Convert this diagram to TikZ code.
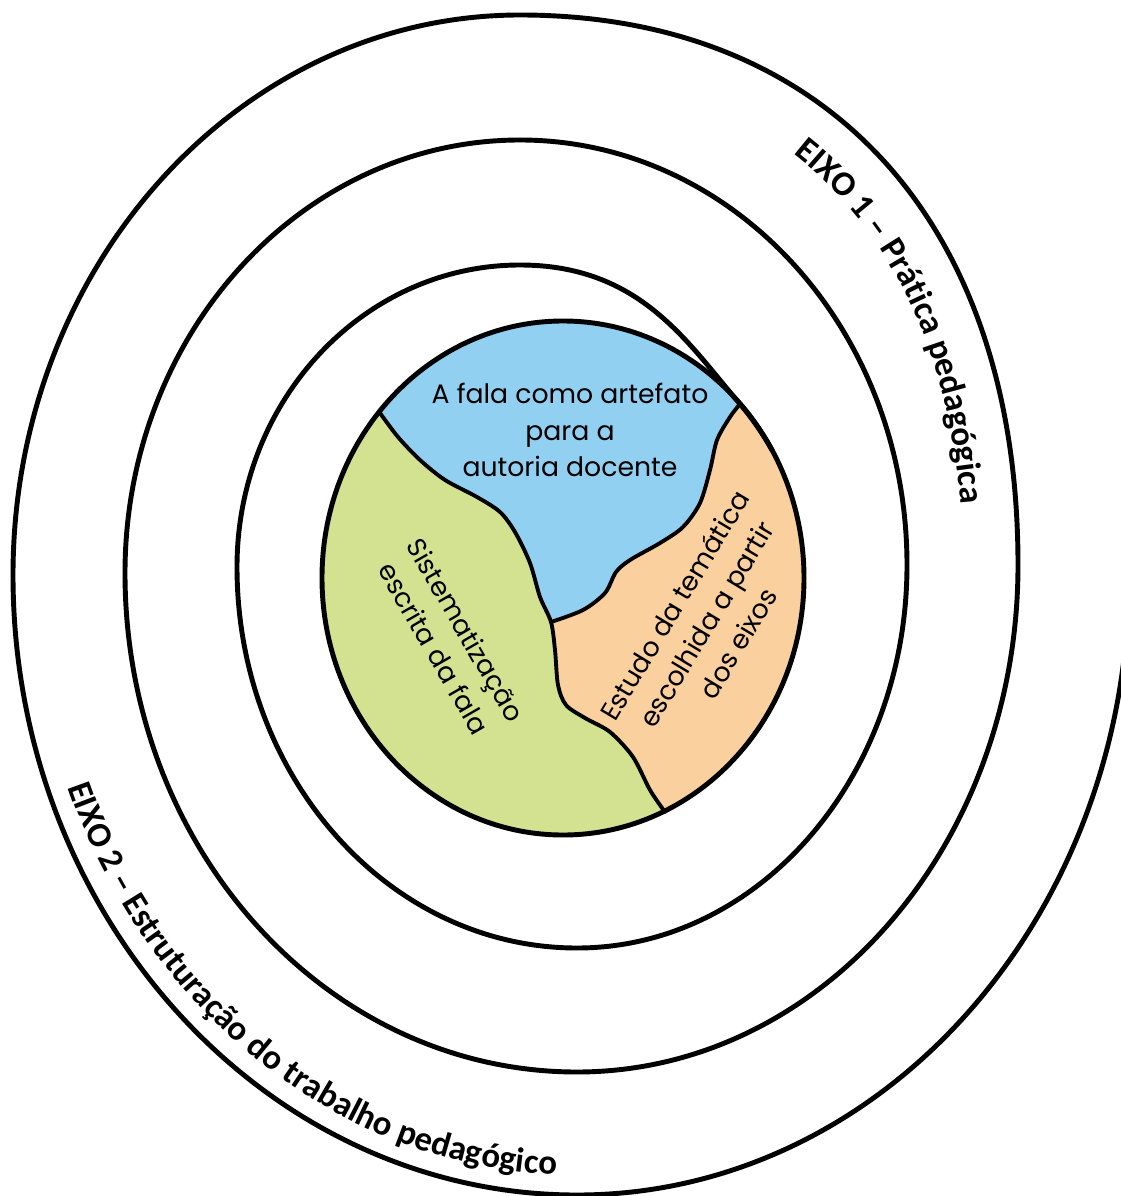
\documentclass[tikz,border=0pt]{standalone}
\usepackage{fontspec}
\usepackage{xcolor}
\usepackage{tikz}
\usetikzlibrary{decorations.text}
\setmainfont{Carlito}
\newfontfamily\eixofont{Carlito}
\newfontfamily\tagfont{Poppins}
\definecolor{falablue}{RGB}{146,208,242}
\definecolor{escritagreen}{RGB}{210,226,145}
\definecolor{estudoorange}{RGB}{250,208,158}

\begin{document}
\begin{tikzpicture}[
    x=0.02cm, y=-0.02cm,
    ring/.style={draw, line width=2.8pt, line join=round, line cap=round},
    border/.style={draw, line width=2.2pt, line join=round, line cap=round},
    tag/.style={align=center, inner sep=0pt, font=\tagfont\fontsize{15.2}{21}\selectfont},
    eixo/.style={decorate, decoration={text along path, text align=left, #1}}
]
    \useasboundingbox (0,0) rectangle (1121,1196);

    % Junctions of the three inner parts
    \coordinate (jA) at (380,413);
    \coordinate (jB) at (740,404);
    \coordinate (jC) at (665,812);
    \coordinate (jJ) at (551,622);

    % Inner parts
    \begin{scope}
        \clip (563,578) ellipse [x radius=241, y radius=257];
        \fill[escritagreen] (300,300) rectangle (840,860);
        \fill[falablue] (320,400) -- plot[smooth] coordinates {(jA) (398,437) (420,460) (445,480) (477,497) (500,512) (515,532) (530,563) (540,597) (jJ)}
            -- plot[smooth] coordinates {(jJ) (583,610) (605,593) (616,572) (630,560) (660,543) (683,527) (700,503) (710,470) (717,440) (730,417) (jB)}
            -- (800,380) -- (800,280) -- (320,280) -- cycle;
        \fill[estudoorange] (800,380) -- plot[smooth] coordinates {(jB) (730,417) (717,440) (710,470) (700,503) (683,527) (660,543) (630,560) (616,572) (605,593) (583,610) (jJ)}
            -- plot[smooth] coordinates {(jJ) (555,650) (558,685) (566,705) (585,718) (610,732) (633,757) (650,790) (jC)}
            -- (690,860) -- (840,860) -- (840,380) -- cycle;
    \end{scope}
    \draw[border] plot[smooth] coordinates {(jA) (398,437) (420,460) (445,480) (477,497) (500,512) (515,532) (530,563) (540,597) (jJ) (555,650) (558,685) (566,705) (585,718) (610,732) (633,757) (650,790) (jC)};
    \draw[border] plot[smooth] coordinates {(jJ) (583,610) (605,593) (616,572) (630,560) (660,543) (683,527) (700,503) (710,470) (717,440) (730,417) (jB)};
    \draw[ring] (563,578) ellipse [x radius=241, y radius=257];

    % Spiral
    \draw[ring] (1129,575) .. controls (1129,917) and (882,1195) .. (577,1195)
        .. controls (266,1195) and (13,917) .. (13,575)
        .. controls (13,266) and (240,15) .. (520,15)
        .. controls (829,15) and (1018,224) .. (1018,565)
        .. controls (1018,845) and (821,1072) .. (577,1072)
        .. controls (327,1072) and (125,849) .. (125,573)
        .. controls (125,334) and (302,140) .. (520,140)
        .. controls (734,140) and (907,330) .. (907,565)
        .. controls (907,777) and (759,948) .. (577,948)
        .. controls (389,948) and (237,777) .. (237,567)
        .. controls (237,400) and (364,265) .. (520,265)
        .. controls (641,265) and (688,344) .. (jB)
        .. controls (752,418) and (763,434) .. (772,450);

    % Axis labels
    \path[eixo={text={|\eixofont\bfseries\fontsize{19.8}{19.8}\selectfont|EIXO 1 – Prática pedagógica}}]
        (793,154) .. controls (902,239) and (963,381) .. (963,565);
    \path[eixo={text={|\eixofont\bfseries\fontsize{19.8}{19.8}\selectfont|EIXO 2 – Estruturação do trabalho pedagógico}}]
        (68,787) .. controls (146,1013) and (345,1175) .. (577,1175) -- (640,1175);

    % Inner labels
    \node[tag] (fala) at (570,430) {A fala como artefato\\para a\\autoria docente};
    \node[tag, rotate=-60] (escrita) at (450,639) {Sistematização\\escrita da fala};
    \node[tag, rotate=59] (estudo) at (706,624) {Estudo da temática\\escolhida a partir\\dos eixos};
\end{tikzpicture}
\end{document}
